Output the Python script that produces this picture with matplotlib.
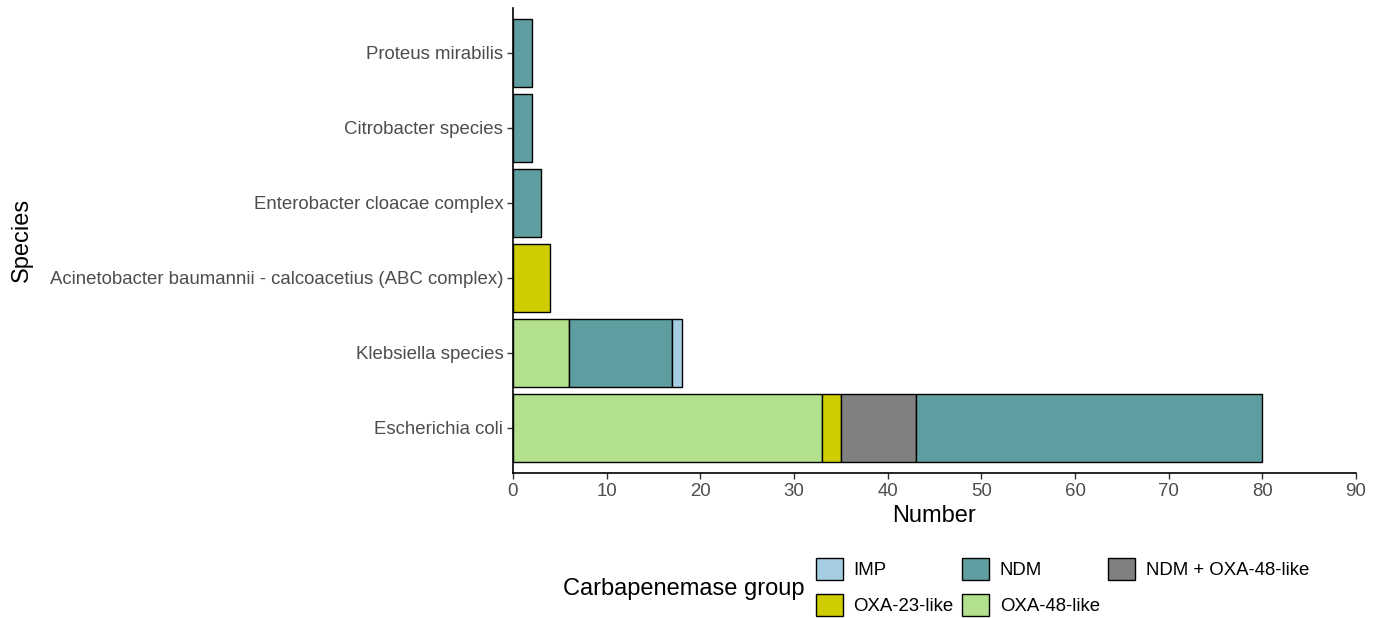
import matplotlib
matplotlib.use("Agg")
import matplotlib.pyplot as plt
from matplotlib.patches import Patch
import numpy as np

plt.rcParams['font.family'] = ['Liberation Sans', 'DejaVu Sans']

species = ["Escherichia coli", "Klebsiella species",
           "Acinetobacter baumannii - calcoacetius (ABC complex)",
           "Enterobacter cloacae complex", "Citrobacter species", "Proteus mirabilis"]
groups = ["OXA-48-like", "OXA-23-like", "NDM + OXA-48-like", "NDM", "IMP"]
oxa48 = [33, 6, 0, 0, 0, 0]
oxa23 = [2, 0, 4, 0, 0, 0]
ndm_oxa48 = [8, 0, 0, 0, 0, 0]
ndm = [37, 11, 0, 3, 2, 2]
imp = [0, 1, 0, 0, 0, 0]
values = [oxa48, oxa23, ndm_oxa48, ndm, imp]
colors = {"IMP": "#a6cee3", "NDM": "#5f9ea0", "NDM + OXA-48-like": "#808080",
          "OXA-23-like": "#cdcd00", "OXA-48-like": "#b3e08c"}
xticks = [0, 10, 20, 30, 40, 50, 60, 70, 80, 90]

fig = plt.figure(figsize=(13.74, 6.18), dpi=100)
ax = fig.add_axes([513/1374, 1 - 473/618, (1356-513)/1374, (473-8)/618])

y = np.arange(len(species))
left = np.zeros(len(species))
for g, vals in zip(groups, values):
    vals = np.array(vals, dtype=float)
    mask = vals > 0
    ax.barh(y[mask], vals[mask], left=left[mask], height=0.9, color=colors[g],
            edgecolor="black", linewidth=1.0)
    left += vals

ax.set_xlim(0, 90)
ax.set_ylim(-0.6, len(species) - 0.4)
ax.set_yticks(y)
ax.set_yticklabels(species)
ax.set_xticks(xticks)
ax.tick_params(axis="both", labelcolor="#4d4d4d", color="#333333", labelsize=13.4,
               length=4, width=1.0, pad=3)
for s in ["top", "right"]:
    ax.spines[s].set_visible(False)
for s in ["left", "bottom"]:
    ax.spines[s].set_linewidth(1.2)
    ax.spines[s].set_color("black")

ax.set_xlabel("Number", fontsize=17, labelpad=4)
fig.text(22/1374, 1 - 240/618, "Species", rotation=90, fontsize=17, ha="center", va="center")

order = ["IMP", "OXA-23-like", "NDM", "OXA-48-like", "NDM + OXA-48-like"]
handles = [Patch(facecolor=colors[k], edgecolor="black", linewidth=1.0) for k in order]
fig.legend(handles, order, ncol=3, loc="upper left",
           bbox_to_anchor=(816/1374, 1 - 558/618), frameon=False, fontsize=13.4,
           handlelength=1.44, handleheight=1.44, handletextpad=0.58,
           columnspacing=0.45, labelspacing=0.74, borderaxespad=0, borderpad=0)
fig.text(563/1374, 1 - 589/618, "Carbapenemase group", fontsize=17, ha="left", va="center")

fig.savefig("out.png", dpi=100)
